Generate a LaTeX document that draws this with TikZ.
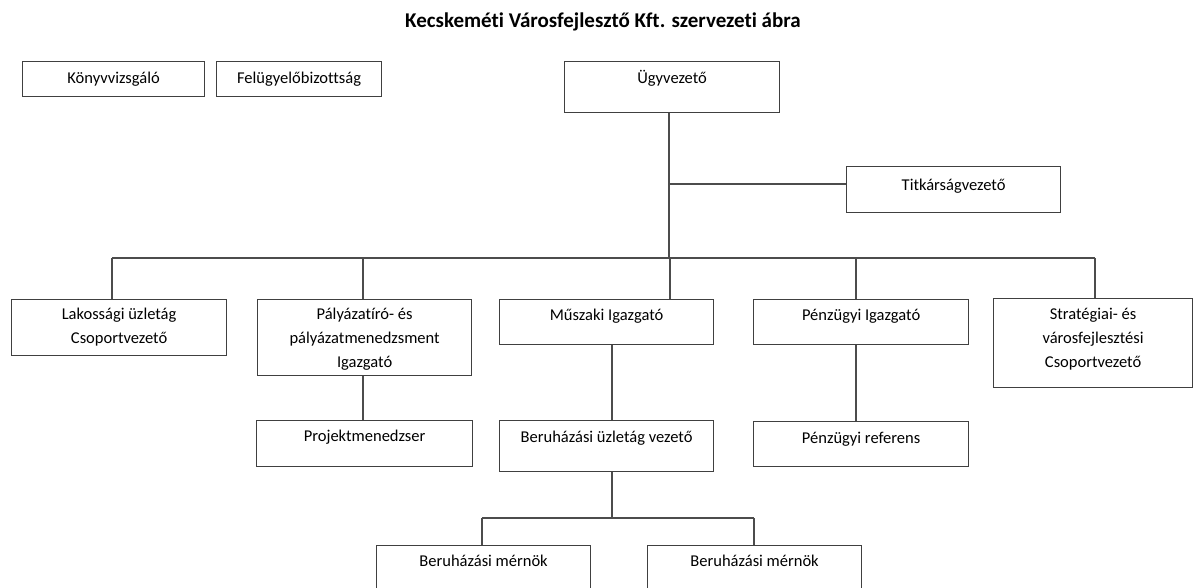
\documentclass[tikz,border=0pt]{standalone}
\usepackage{fontspec}
\setmainfont{Carlito}[Ligatures=NoCommon]
\newcommand{\tstrut}{\rule{0pt}{15pt}}
\tikzset{
  box/.style={draw=black!75, line width=1.2pt, anchor=north west, inner sep=0pt, rectangle},
  txt/.style={anchor=north, inner sep=0pt, align=center, font=\fontsize{16.5}{24}\selectfont, text=black},
  conn/.style={draw=black!70, line width=1.2pt},
}
\begin{document}
\begin{tikzpicture}[x=1pt, y=-1pt]
\useasboundingbox (0,0) rectangle (1195,587);
\clip (0,0) rectangle (1195,587);
% title
\node[anchor=base, inner sep=0pt, font=\fontsize{21}{24}\selectfont\bfseries] (title) at (603,27) {Kecskeméti Városfejlesztő Kft. szervezeti ábra};
% boxes
\node[box, minimum width=182pt, minimum height=35pt] (kv) at (22,61) {};
\node[box, minimum width=165pt, minimum height=35pt] (fb) at (216,61) {};
\node[box, minimum width=215pt, minimum height=51pt] (ugy) at (564,61) {};
\node[box, minimum width=214pt, minimum height=46pt] (tit) at (846,166) {};
\node[box, minimum width=215pt, minimum height=56pt] (lak) at (11,299) {};
\node[box, minimum width=214pt, minimum height=76pt] (pal) at (257,299) {};
\node[box, minimum width=214pt, minimum height=45pt] (mus) at (499,299) {};
\node[box, minimum width=215pt, minimum height=45pt] (pen) at (753,299) {};
\node[box, minimum width=199pt, minimum height=89pt] (str) at (993,298) {};
\node[box, minimum width=216pt, minimum height=46pt] (proj) at (256,420) {};
\node[box, minimum width=214pt, minimum height=51pt] (ber) at (499,420) {};
\node[box, minimum width=215pt, minimum height=45pt] (pref) at (753,421) {};
\node[box, minimum width=214pt, minimum height=60pt] (m1) at (376,545) {};
\node[box, minimum width=214pt, minimum height=60pt] (m2) at (647,545) {};
% texts
\node[txt] (tkv) at ([yshift=-7pt]kv.north) {\tstrut Könyvvizsgáló};
\node[txt] (tfb) at ([yshift=-7pt]fb.north) {\tstrut Felügyelőbizottság};
\node[txt] (tugy) at ([yshift=-7pt]ugy.north) {\tstrut Ügyvezető};
\node[txt] (ttit) at ([yshift=-9pt]tit.north) {\tstrut Titkárságvezető};
\node[txt] (tlak) at ([yshift=-5pt]lak.north) {\tstrut Lakossági üzletág\\Csoportvezető};
\node[txt] (tpal) at ([yshift=-5pt]pal.north) {\tstrut Pályázatíró- és\\pályázatmenedzsment\\Igazgató};
\node[txt] (tmus) at ([yshift=-6pt]mus.north) {\tstrut Műszaki Igazgató};
\node[txt] (tpen) at ([yshift=-6pt]pen.north) {\tstrut Pénzügyi Igazgató};
\node[txt] (tstr) at ([yshift=-6pt]str.north) {\tstrut Stratégiai- és\\városfejlesztési\\Csoportvezető};
\node[txt] (tproj) at ([yshift=-6pt]proj.north) {\tstrut Projektmenedzser};
\node[txt] (tber) at ([yshift=-7pt]ber.north) {\tstrut Beruházási üzletág vezető};
\node[txt] (tpref) at ([yshift=-7pt]pref.north) {\tstrut Pénzügyi referens};
\node[txt] (tm1) at ([yshift=-6pt]m1.north) {\tstrut Beruházási mérnök};
\node[txt] (tm2) at ([yshift=-6pt]m2.north) {\tstrut Beruházási mérnök};
% connector points
\coordinate (trunk) at (669,258);
\coordinate (tj) at (669,184);
\coordinate (busL) at (112,258);
\coordinate (busR) at (1095,258);
\coordinate (bj) at (612,518);
\coordinate (bL) at (482,518);
\coordinate (bR) at (754,518);
% connectors
\draw[conn] (ugy.south -| trunk) -- (trunk);
\draw[conn] (tj) -- (tj -| tit.west);
\draw[conn] (busL) -- (busR);
\draw[conn] (busL) -- (busL |- lak.north);
\draw[conn] (363,258) -- (363,299);
\draw[conn] (670,258) -- (670,299);
\draw[conn] (856,258) -- (856,299);
\draw[conn] (busR) -- (busR |- str.north);
\draw[conn] (pal.south -| 363,0) -- (proj.north -| 363,0);
\draw[conn] (mus.south -| bj) -- (ber.north -| bj);
\draw[conn] (pen.south -| 856,0) -- (pref.north -| 856,0);
\draw[conn] (ber.south -| bj) -- (bj);
\draw[conn] (bL) -- (bR);
\draw[conn] (bL) -- (bL |- m1.north);
\draw[conn] (bR) -- (bR |- m2.north);
\end{tikzpicture}
\end{document}
